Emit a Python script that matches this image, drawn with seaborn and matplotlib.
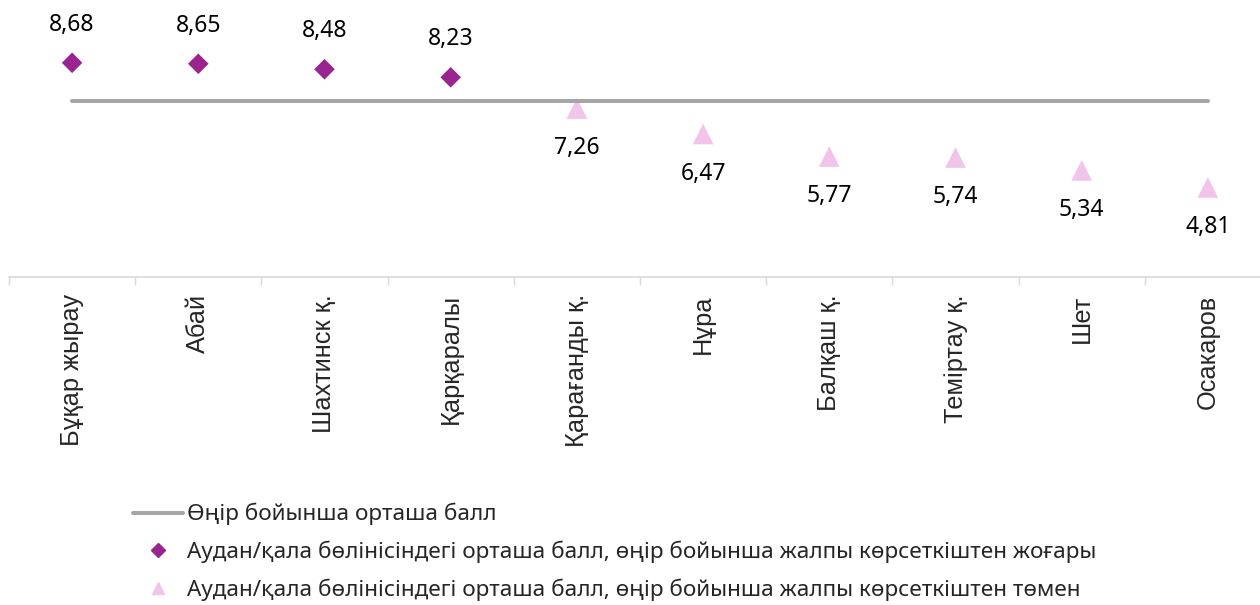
import numpy as np
import pandas as pd
import seaborn as sns
import matplotlib.pyplot as plt
from matplotlib.lines import Line2D

categories = ["Бұқар жырау", "Абай", "Шахтинск қ.", "Қарқаралы", "Қарағанды қ.",
              "Нұра", "Балқаш қ.", "Теміртау қ.", "Шет", "Осакаров"]
scores = [8.68, 8.65, 8.48, 8.23, 7.26, 6.47, 5.77, 5.74, 5.34, 4.81]
regional_avg = 7.48

label_avg = "Өңір бойынша орташа балл"
label_above = "Аудан/қала бөлінісіндегі орташа балл, өңір бойынша жалпы көрсеткіштен жоғары"
label_below = "Аудан/қала бөлінісіндегі орташа балл, өңір бойынша жалпы көрсеткіштен төмен"

C_LINE = "#A6A6A6"
C_ABOVE = "#9A2590"
C_BELOW = "#F2C4EA"

sns.set_theme(style="white")
plt.rcParams['font.family'] = ['Noto Sans', 'Open Sans', 'DejaVu Sans']

df = pd.DataFrame({"pos": np.arange(len(categories)), "score": scores})
df["group"] = np.where(df["score"] > regional_avg, "above", "below")
df["avg"] = regional_avg

fig = plt.figure(figsize=(12.6, 6.05), dpi=100)
ax = fig.add_axes([9 / 1260, 1 - 277 / 605, 1262 / 1260, 277 / 605])

sns.lineplot(data=df, x="pos", y="avg", color=C_LINE, lw=2.9, ax=ax, legend=False)
sns.scatterplot(data=df, x="pos", y="score", hue="group", style="group", size="group",
                palette={"above": C_ABOVE, "below": C_BELOW},
                markers={"above": "D", "below": "^"},
                sizes={"above": 110, "below": 222},
                linewidth=0, ax=ax, legend=False)

for x, v, g in zip(df["pos"], df["score"], df["group"]):
    off = 27.5 if g == "above" else -28.5
    ax.annotate(f"{v:.2f}".replace(".", ","), (x, v), xytext=(0, off),
                textcoords="offset points", ha="center", va="center",
                fontsize=16.5, color="#000000")

ax.set_xlim(-0.5, len(categories) - 0.5)
ax.set_ylim(2.03, 10.63)
ax.set_xlabel("")
ax.set_ylabel("")
ax.set_yticks([])
ax.set_xticks(np.arange(len(categories)))
ax.set_xticklabels(categories, rotation=90, fontsize=18.3,
                   family=['Liberation Sans', 'Arial', 'DejaVu Sans'])
ax.set_xticks(np.arange(len(categories) + 1) - 0.5, minor=True)
ax.tick_params(axis="x", which="major", length=0, pad=12.5)
ax.tick_params(axis="x", which="minor", length=6, width=1, color="#D9D9D9", bottom=True)
for s in ["top", "right", "left"]:
    ax.spines[s].set_visible(False)
ax.spines["bottom"].set_color("#D9D9D9")
ax.spines["bottom"].set_linewidth(1.2)

handles = [
    Line2D([], [], color=C_LINE, lw=2.9),
    Line2D([], [], color=C_ABOVE, marker="D", ls="none", markersize=7),
    Line2D([], [], color=C_BELOW, marker="^", ls="none", markersize=9),
]
fig.legend(handles, [label_avg, label_above, label_below],
           loc="upper left", bbox_to_anchor=(133 / 1260, 1 - 503 / 605),
           frameon=False, fontsize=16.2, handlelength=2.2, handletextpad=0.2,
           labelspacing=0.68, borderaxespad=0, borderpad=0)

fig.savefig("out.png", dpi=100)
